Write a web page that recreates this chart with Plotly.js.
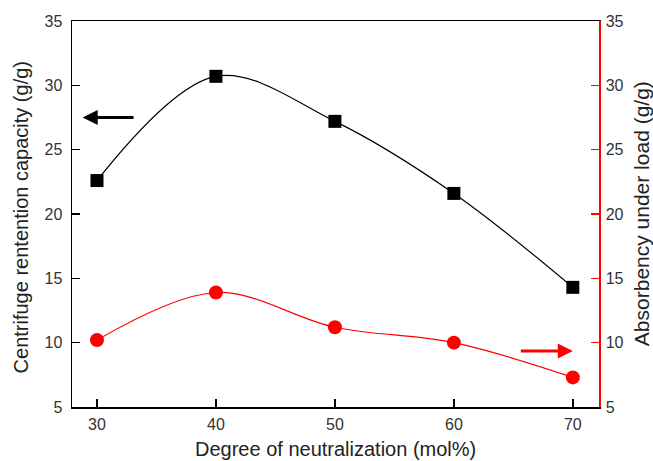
<!DOCTYPE html>
<html><head><meta charset="utf-8">
<script src="https://cdn.plot.ly/plotly-3.0.1.min.js"></script>
<style>html,body{margin:0;padding:0;background:#fff}</style>
</head><body>
<div id="chart" style="width:653px;height:461px"></div>
<script>
const neutralization = [30, 40, 50, 60, 70];
const crc = [22.6, 30.7, 27.2, 21.6, 14.3];
const aul = [10.2, 13.9, 11.2, 10.0, 7.3];
const yTicks = [5, 10, 15, 20, 25, 30, 35];
const xTicks = [30, 40, 50, 60, 70];
const xTitle = 'Degree of neutralization (mol%)';
const yTitle = 'Centrifuge rentention capacity (g/g)';
const y2Title = 'Absorbency under load (g/g)';

const traces = [
  {x: neutralization, y: crc, type: 'scatter', mode: 'lines+markers',
   line: {shape: 'spline', color: '#000', width: 1.2, smoothing: 1},
   marker: {symbol: 'square', size: 13, color: '#000'}, yaxis: 'y', showlegend: false},
  {x: neutralization, y: aul, type: 'scatter', mode: 'lines+markers',
   line: {shape: 'spline', color: '#ff0000', width: 1.2, smoothing: 1},
   marker: {symbol: 'circle', size: 14, color: '#ff0000'}, yaxis: 'y2', showlegend: false}
];

const fam = 'Liberation Sans, Arial, sans-serif';
const tickFont = {family: fam, size: 16, color: '#333'};
const titleColor = '#222';
const layout = {
  width: 653, height: 461,
  margin: {l: 72, r: 54, t: 21, b: 54},
  paper_bgcolor: '#fff', plot_bgcolor: '#fff',
  font: {family: fam, size: 16, color: '#333'},
  showlegend: false,
  xaxis: {
    range: [27.9, 72.2], tickvals: xTicks, ticktext: xTicks.map(String),
    ticks: 'inside', ticklen: 8, tickwidth: 1.5, tickcolor: '#000',
    showline: true, linecolor: '#000', linewidth: 1.5, mirror: true,
    showgrid: false, zeroline: false, ticklabelstandoff: 2,
    tickfont: tickFont
  },
  yaxis: {
    range: [5, 35], tickvals: yTicks,
    ticks: 'inside', ticklen: 8, tickwidth: 1.5, tickcolor: '#000',
    showline: true, linecolor: '#000', linewidth: 1.5,
    showgrid: false, zeroline: false, ticklabelstandoff: 5,
    tickfont: tickFont
  },
  yaxis2: {
    overlaying: 'y', side: 'right',
    range: [5, 35], tickvals: yTicks,
    ticks: 'inside', ticklen: 8, tickwidth: 1.5, tickcolor: '#ff0000',
    showline: true, linecolor: '#ff0000', linewidth: 1.5,
    showgrid: false, zeroline: false, ticklabelstandoff: 2,
    tickfont: tickFont
  },
  annotations: [
    {x: 28.8, y: 27.5, ax: 33.2, ay: 27.5, xref: 'x', yref: 'y', axref: 'x', ayref: 'y',
     text: '', showarrow: true, arrowhead: 2, arrowsize: 1, arrowwidth: 3, arrowcolor: '#000'},
    {x: 70.0, y: 9.35, ax: 65.5, ay: 9.35, xref: 'x', yref: 'y', axref: 'x', ayref: 'y',
     text: '', showarrow: true, arrowhead: 2, arrowsize: 1, arrowwidth: 3, arrowcolor: '#ff0000'},
    {text: xTitle, xref: 'paper', yref: 'paper', x: 0.50, y: -0.109, xanchor: 'center', yanchor: 'middle',
     showarrow: false, font: {family: fam, size: 20, color: titleColor}},
    {text: yTitle, xref: 'paper', yref: 'paper', x: -0.095, y: 0.491, xanchor: 'center', yanchor: 'middle',
     textangle: -90, showarrow: false, font: {family: fam, size: 20, color: titleColor}},
    {text: y2Title, xref: 'paper', yref: 'paper', x: 1.080, y: 0.50, xanchor: 'center', yanchor: 'middle',
     textangle: -90, showarrow: false, font: {family: fam, size: 21, color: titleColor}}
  ]
};
Plotly.newPlot('chart', traces, layout, {displayModeBar: false, staticPlot: true});
</script>
</body></html>
